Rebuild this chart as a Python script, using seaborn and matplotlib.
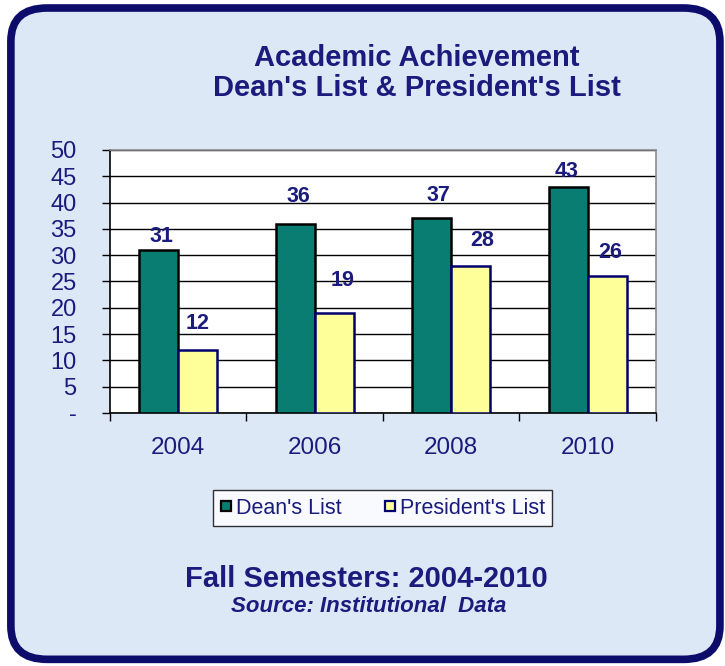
import matplotlib
matplotlib.use("Agg")
import matplotlib.pyplot as plt
import seaborn as sns
import pandas as pd
from matplotlib.patches import FancyBboxPatch
from matplotlib.lines import Line2D

# data
years = ["2004", "2006", "2008", "2010"]
deans_list = [31, 36, 37, 43]
presidents_list = [12, 19, 28, 26]
series_names = ["Dean's List", "President's List"]
y_ticks = [0, 5, 10, 15, 20, 25, 30, 35, 40, 45, 50]
y_tick_labels = ["-", "5", "10", "15", "20", "25", "30", "35", "40", "45", "50"]

# hand-placed label nudges (pixels above bar top / sideways), like the excel original
label_dy = [[13, 27, 23, 15], [26, 33, 25, 24]]
label_dx = [[3, 3, 7, -2], [0, 8, 12, 3]]

NAVY = "#1b1b7d"
TEAL = "#0a7d72"
YELLOW = "#ffff99"
BG = "#dde8f6"

df = pd.DataFrame({
    "year": years * 2,
    "count": deans_list + presidents_list,
    "list": [series_names[0]] * len(years) + [series_names[1]] * len(years),
})

sns.set_theme(style="white")
plt.rcParams["font.family"] = ["Liberation Sans", "DejaVu Sans"]

fig = plt.figure(figsize=(7.25, 6.66), dpi=100)
fig.patch.set_facecolor("white")

# rounded navy frame with light blue fill
frame = FancyBboxPatch((0.015, 0.010), 0.978, 0.978, transform=fig.transFigure,
                       boxstyle="round,pad=0,rounding_size=0.05",
                       facecolor=BG, edgecolor="#0c0c6a", linewidth=5.5, zorder=-5)
fig.patches.append(frame)

ax = fig.add_axes([0.1517, 0.3799, 0.7531, 0.3949])
ax.set_facecolor("white")

palette = [TEAL, YELLOW]
sns.barplot(data=df, x="year", y="count", hue="list", order=years,
            hue_order=series_names, palette=palette, width=0.57,
            gap=0, saturation=1, legend=False, ax=ax, zorder=3)

edge_colors = ["black", "#00006e"]
for k, (cont, ec) in enumerate(zip(ax.containers, edge_colors)):
    for i, bar in enumerate(cont):
        bar.set_edgecolor(ec)
        bar.set_linewidth(1.8)
        ax.annotate(f"{bar.get_height():.0f}",
                    (bar.get_x() + bar.get_width() / 2, bar.get_height()),
                    xytext=(label_dx[k][i], label_dy[k][i]), textcoords="offset pixels",
                    ha="center", va="center", color=NAVY, fontsize=15.5,
                    fontweight="bold", zorder=5)

ax.set_ylim(0, 50)
ax.set_xlim(-0.5, 3.5)
ax.set_yticks(y_ticks)
ax.set_yticklabels(y_tick_labels)
ax.grid(axis="y", color="black", linewidth=1.0, zorder=1)
ax.set_axisbelow(True)
ax.set_xlabel("")
ax.set_ylabel("")

# category labels at centres, tick marks at the boundaries
ax.set_xticks(range(len(years)))
ax.set_xticklabels(years)
ax.set_xticks([i - 0.5 for i in range(len(years) + 1)], minor=True)
ax.tick_params(axis="x", which="major", length=0, pad=17, labelsize=17.5, labelcolor=NAVY)
ax.tick_params(axis="x", which="minor", length=6, width=1, color="black", direction="out", bottom=True)
ax.tick_params(axis="y", length=6, width=1, color="black", direction="out", left=True,
               pad=18, labelsize=17, labelcolor=NAVY)

for side in ["left", "bottom"]:
    ax.spines[side].set_color("black")
    ax.spines[side].set_linewidth(1.2)
for side in ["top", "right"]:
    ax.spines[side].set_color("#8c8c8c")
    ax.spines[side].set_linewidth(1.2)

# legend below the plot, small square keys
handles = [Line2D([], [], marker="s", linestyle="none", markersize=7,
                  markerfacecolor=c, markeredgecolor=ec, markeredgewidth=1.6)
           for c, ec in zip(palette, edge_colors)]
leg = fig.legend(handles, series_names, loc="center", bbox_to_anchor=(0.528, 0.237),
                 ncol=2, frameon=True, fancybox=False, fontsize=15.5,
                 handlelength=0.5, handletextpad=0.2,
                 columnspacing=2.0, borderpad=0.35, borderaxespad=0,
                 labelcolor=NAVY)
leg.get_frame().set_edgecolor("black")
leg.get_frame().set_linewidth(1.0)
leg.get_frame().set_facecolor("white")

fig.text(0.5745, 1 - 66 / 666, "Academic Achievement", ha="center", va="baseline",
         fontsize=21, fontweight="bold", color=NAVY)
fig.text(0.5745, 1 - 96 / 666, "Dean's List & President's List", ha="center", va="baseline",
         fontsize=21, fontweight="bold", color=NAVY)
fig.text(0.506, 1 - 587 / 666, "Fall Semesters: 2004-2010", ha="center", va="baseline",
         fontsize=21, fontweight="bold", color=NAVY)
fig.text(0.508, 1 - 612 / 666, "Source: Institutional  Data", ha="center", va="baseline",
         fontsize=16, fontweight="bold", fontstyle="italic", color=NAVY)

fig.savefig("out.png", dpi=100, facecolor=fig.get_facecolor())
